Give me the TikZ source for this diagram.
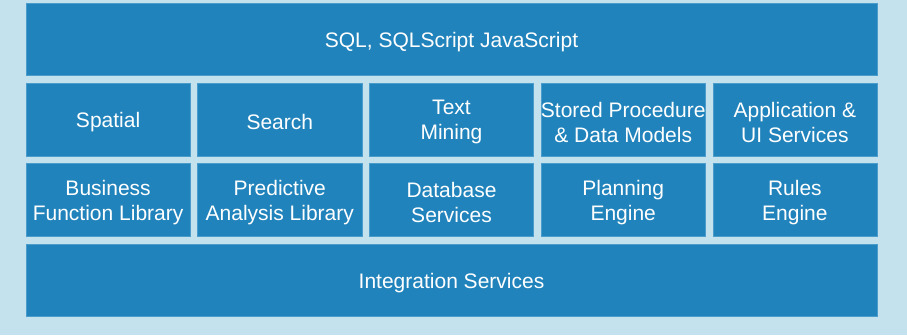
\documentclass[tikz,border=0pt]{standalone}
\usepackage{fontspec}
\setmainfont{Liberation Sans}
\definecolor{bgblue}{HTML}{C4E2EE}
\definecolor{boxblue}{HTML}{2183BB}
\definecolor{edgeblue}{HTML}{4C9CCB}
\begin{document}
\begin{tikzpicture}[x=1pt,y=-1pt,
  blk/.style={draw=edgeblue,line width=0.6pt,fill=boxblue,
    minimum width=164.2pt,minimum height=72.5pt,inner sep=0pt},
  wide/.style={blk,minimum width=851pt},
  lbl/.style={text=white,inner sep=0pt,align=center,yshift=-2.8pt,
    font=\fontsize{21}{25}\selectfont}]
\fill[bgblue] (0,0) rectangle (907,335);
\useasboundingbox (0,0) rectangle (907,335);
\node[wide,label={[lbl]center:SQL, SQLScript JavaScript}] (top) at (451.5,39.25) {};
\node[blk,label={[lbl]center:Spatial}] (spatial) at (108.1,119.55) {};
\node[blk,label={[lbl]center:Search}] (search) at (279.8,119.55) {};
\node[blk,label={[lbl]center:Text\\Mining}] (text) at (451.5,119.55) {};
\node[blk,label={[lbl]center:Stored Procedure\\\& Data Models}] (stored) at (623.2,119.55) {};
\node[blk,label={[lbl]center:Application \&\\UI Services}] (app) at (794.9,119.55) {};
\node[blk,label={[lbl]center:Business\\Function Library}] (bfl) at (108.1,199.85) {};
\node[blk,label={[lbl]center:Predictive\\Analysis Library}] (pal) at (279.8,199.85) {};
\node[blk,label={[lbl]center:Database\\Services}] (db) at (451.5,199.85) {};
\node[blk,label={[lbl]center:Planning\\Engine}] (plan) at (623.2,199.85) {};
\node[blk,label={[lbl]center:Rules\\Engine}] (rules) at (794.9,199.85) {};
\node[wide,label={[lbl]center:Integration Services}] (integ) at (451.5,280.15) {};
\end{tikzpicture}
\end{document}
